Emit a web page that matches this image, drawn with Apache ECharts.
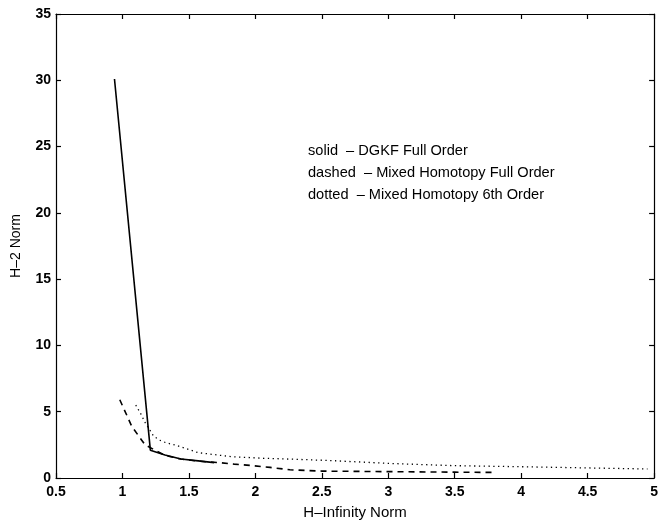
<!DOCTYPE html>
<html>
<head>
<meta charset="utf-8">
<script src="https://cdn.jsdelivr.net/npm/echarts@6/dist/echarts.min.js"></script>
<style>
html,body{margin:0;padding:0;background:#fff;}
#chart{width:661px;height:525px;}
</style>
</head>
<body>
<div id="chart"></div>
<script>
// Data
var solidX = [0.94, 1.21, 1.32, 1.44, 1.57, 1.69];
var solidY = [30.1, 2.1, 1.73, 1.43, 1.29, 1.16];

var dashedX = [0.98, 1.07, 1.17, 1.32, 1.44, 1.57, 1.74, 1.84, 1.96, 2.11, 2.26, 2.5, 3.0, 3.5, 3.8];
var dashedY = [5.9, 3.9, 2.5, 1.7, 1.43, 1.27, 1.15, 1.05, 0.95, 0.8, 0.62, 0.52, 0.48, 0.44, 0.42];

var dottedX = [1.10, 1.14, 1.17, 1.235, 1.28, 1.33, 1.40, 1.57, 1.82, 2.06, 2.31, 2.6, 3.0, 3.5, 4.0, 4.5, 4.95];
var dottedY = [5.5, 4.8, 4.2, 3.15, 2.85, 2.65, 2.48, 1.91, 1.61, 1.49, 1.41, 1.3, 1.1, 0.93, 0.85, 0.76, 0.68];

var xRange = [0.5, 5, 0.5];
var yRange = [0, 35, 5];

var legendLines = [
  'solid  \u2013 DGKF Full Order',
  'dashed  \u2013 Mixed Homotopy Full Order',
  'dotted  \u2013 Mixed Homotopy 6th Order'
];
var xName = 'H\u2013Infinity Norm';
var yName = 'H\u20132 Norm';

function pairs(xs, ys) { return xs.map(function (x, i) { return [x, ys[i]]; }); }

var font = 'Liberation Sans, Arial, Helvetica, sans-serif';
var axisLineStyle = { color: '#000', width: 1.2 };

function xAxisCfg(pos, showLabel) {
  return {
    type: 'value', position: pos, min: xRange[0], max: xRange[1], interval: xRange[2],
    axisLine: { show: true, onZero: false, lineStyle: axisLineStyle },
    axisTick: { show: true, inside: true, length: 5, lineStyle: axisLineStyle },
    axisLabel: { show: showLabel, color: '#000', fontSize: 14, fontFamily: font, fontWeight: 'bold', margin: 7 },
    splitLine: { show: false },
    name: showLabel ? xName : '', nameLocation: 'middle', nameGap: 27,
    nameTextStyle: { color: '#000', fontSize: 15, fontFamily: font }
  };
}
function yAxisCfg(pos, showLabel) {
  return {
    type: 'value', position: pos, min: yRange[0], max: yRange[1], interval: yRange[2],
    axisLine: { show: true, onZero: false, lineStyle: axisLineStyle },
    axisTick: { show: true, inside: true, length: 5, lineStyle: axisLineStyle },
    axisLabel: { show: showLabel, color: '#000', fontSize: 14, fontFamily: font, fontWeight: 'bold', margin: 5 },
    splitLine: { show: false },
    name: showLabel ? yName : '', nameLocation: 'middle', nameGap: 33, nameRotate: 90,
    nameTextStyle: { color: '#000', fontSize: 14, fontFamily: font }
  };
}

var chart = echarts.init(document.getElementById('chart'), null, { renderer: 'canvas' });
chart.setOption({
  backgroundColor: '#fff',
  animation: false,
  grid: { left: 56, right: 4, top: 14, bottom: 40 },
  xAxis: [xAxisCfg('bottom', true), xAxisCfg('top', false)],
  yAxis: [yAxisCfg('left', true), yAxisCfg('right', false)],
  series: [
    { type: 'line', data: pairs(solidX, solidY), showSymbol: false,
      lineStyle: { color: '#000', width: 1.6, type: 'solid' } },
    { type: 'line', data: pairs(dashedX, dashedY), showSymbol: false,
      lineStyle: { color: '#000', width: 1.6, type: [6, 5] } },
    { type: 'line', data: pairs(dottedX, dottedY), showSymbol: false,
      lineStyle: { color: '#000', width: 1.3, type: [1.3, 3.5] } }
  ],
  graphic: legendLines.map(function (t, i) {
    return { type: 'text', left: 308, top: 143 + i * 22,
      style: { text: t, fill: '#000', font: '14.6px ' + font } };
  })
});
</script>
</body>
</html>
